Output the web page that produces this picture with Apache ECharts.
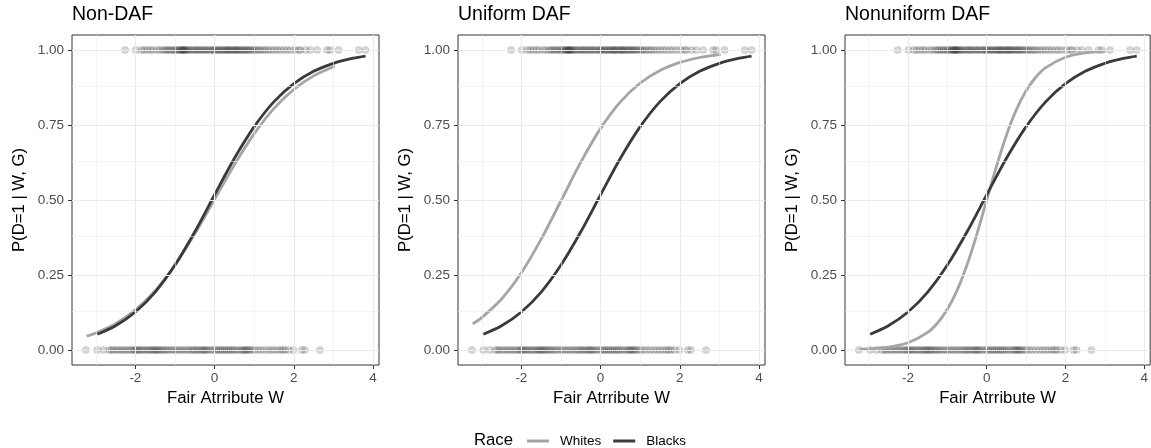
<!DOCTYPE html>
<html><head><meta charset="utf-8">
<script src="https://cdn.jsdelivr.net/npm/echarts@6/dist/echarts.min.js"></script>
<style>html,body{margin:0;padding:0;background:#fff}#c{width:1151px;height:448px}</style>
</head><body><div id="c"></div>
<script>
// ---- data ----
const panelTitles = ['Non-DAF', 'Uniform DAF', 'Nonuniform DAF'];
const xTickValues = [-2, 0, 2, 4];
const xMinorValues = [-3, -1, 1, 3];
const yTickValues = [0, 0.25, 0.5, 0.75, 1];
const yMinorValues = [0.125, 0.375, 0.625, 0.875];

// observed W values with D = 1
const pointsD1 = [-2.26, -1.99, -1.85, -1.78, -1.70, -1.62, -1.55, -1.45, -1.38, -1.30, -1.25, -1.20, -1.15, -1.10,
  -1.05, -1.00, -0.96, -0.92, -0.88, -0.85, -0.82, -0.80, -0.78, -0.75, -0.72, -0.68, -0.64, -0.60, -0.55, -0.50,
  -0.46, -0.42, -0.38, -0.33, -0.28, -0.24, -0.20, -0.15, -0.10, -0.05, -0.02, 0.02, 0.06, 0.10, 0.14, 0.18, 0.22,
  0.26, 0.30, 0.33, 0.36, 0.40, 0.44, 0.48, 0.52, 0.55, 0.58, 0.62, 0.66, 0.70, 0.74, 0.78, 0.82, 0.86, 0.90, 0.95,
  1.00, 1.05, 1.10, 1.16, 1.22, 1.28, 1.35, 1.42, 1.50, 1.58, 1.66, 1.75, 1.83, 1.92, 2.02, 2.12, 2.17, 2.30, 2.42,
  2.59, 2.84, 2.92, 3.13, 3.64, 3.81];
// observed W values with D = 0
const pointsD0 = [-3.25, -2.96, -2.80, -2.66, -2.60, -2.55, -2.48, -2.42, -2.36, -2.30, -2.24, -2.18, -2.12, -2.06,
  -2.02, -1.98, -1.94, -1.90, -1.85, -1.80, -1.75, -1.70, -1.65, -1.60, -1.56, -1.52, -1.48, -1.44, -1.40, -1.35,
  -1.30, -1.25, -1.20, -1.14, -1.08, -1.02, -0.96, -0.90, -0.84, -0.78, -0.72, -0.66, -0.60, -0.55, -0.50, -0.45,
  -0.40, -0.35, -0.30, -0.26, -0.22, -0.18, -0.12, -0.06, 0.00, 0.05, 0.10, 0.15, 0.20, 0.25, 0.30, 0.35, 0.40,
  0.45, 0.50, 0.56, 0.62, 0.68, 0.72, 0.76, 0.80, 0.84, 0.88, 0.94, 1.00, 1.08, 1.16, 1.25, 1.34, 1.42, 1.50, 1.58,
  1.66, 1.72, 1.78, 1.87, 1.99, 2.20, 2.28, 2.66];

// fitted curves
const blacksX = [-2.96, -2.5, -2, -1.5, -1, -0.5, 0, 0.5, 1, 1.5, 2, 2.5, 3, 3.5, 3.81];
const blacksY = [0.0526, 0.0809, 0.1268, 0.1931, 0.283, 0.394, 0.5175, 0.639, 0.7446, 0.828, 0.888, 0.929, 0.9556, 0.9726, 0.9797];

const whitesX = [-3.23, -3, -2.5, -2, -1.5, -1, -0.5, 0, 0.5, 1, 1.5, 2, 2.5, 3.03];
const whitesYNonDAF = [0.0463, 0.0568, 0.0879, 0.1335, 0.1978, 0.283, 0.387, 0.5025, 0.6177, 0.7211, 0.8053, 0.8688, 0.9137, 0.9457];
const whitesYUniform = [0.0869, 0.1081, 0.170, 0.2573, 0.3694, 0.4975, 0.626, 0.7388, 0.827, 0.890, 0.9318, 0.9585, 0.975, 0.9855];
const whitesXNonuniform = [-3.23, -2.5, -2, -1.5, -1.25, -1, -0.75, -0.5, -0.25, 0, 0.25, 0.5, 0.75, 1, 1.25, 1.5, 2, 2.5, 3.03];
const whitesYNonuniform = [0.0025, 0.0097, 0.0241, 0.0587, 0.090, 0.1359, 0.1998, 0.284, 0.3864, 0.5, 0.6136, 0.716, 0.8002, 0.8641, 0.910, 0.9413, 0.9759, 0.9903, 0.9963];

const legendNames = ['Whites', 'Blacks'];
const legendTitle = 'Race';
const xTitle = 'Fair Atrribute W';
const yTitle = 'P(D=1 | W, G)';

// ---- chart ----
const FONT = '"Liberation Sans", Arial, Helvetica, sans-serif';
const lefts = [72, 458, 845];
const whitesSets = [[whitesX, whitesYNonDAF], [whitesX, whitesYUniform], [whitesXNonuniform, whitesYNonuniform]];
const zip = (xs, ys) => xs.map((x, i) => [x, ys[i]]);
const WHITE_C = '#a5a5a5', BLACK_C = '#3a3a3a', GRID_C = '#ebebeb';

const grids = [], xAxes = [], yAxes = [], series = [], titles = [];
lefts.forEach((l, i) => {
  grids.push({left: l, top: 35, width: 307, height: 330, show: true, borderColor: '#333', borderWidth: 1, backgroundColor: '#fff'});
  xAxes.push({
    gridIndex: i, type: 'value', min: -3.6, max: 4.15,
    axisLine: {show: false, onZero: false}, splitLine: {show: false},
    axisTick: {show: true, customValues: xTickValues, length: 4, lineStyle: {color: '#333', width: 1}},
    axisLabel: {customValues: xTickValues, color: '#4d4d4d', fontSize: 13.5, margin: 6, fontFamily: FONT},
    name: xTitle, nameLocation: 'middle', nameGap: 23,
    nameTextStyle: {fontSize: 16.7, color: '#000', fontFamily: FONT}
  });
  yAxes.push({
    gridIndex: i, type: 'value', min: -0.05, max: 1.05,
    axisLine: {show: false, onZero: false}, splitLine: {show: false},
    axisTick: {show: true, customValues: yTickValues, length: 4, lineStyle: {color: '#333', width: 1}},
    axisLabel: {customValues: yTickValues, color: '#4d4d4d', fontSize: 13.5, margin: 8, fontFamily: FONT,
      formatter: v => Number(v).toFixed(2)},
    name: yTitle, nameLocation: 'middle', nameGap: 44,
    nameTextStyle: {fontSize: 16.7, color: '#000', fontFamily: FONT}
  });
  const gl = [];
  xMinorValues.forEach(v => gl.push({xAxis: v, lineStyle: {color: GRID_C, width: 0.6, type: 'solid'}}));
  yMinorValues.forEach(v => gl.push({yAxis: v, lineStyle: {color: GRID_C, width: 0.6, type: 'solid'}}));
  xTickValues.forEach(v => gl.push({xAxis: v, lineStyle: {color: GRID_C, width: 1.2, type: 'solid'}}));
  yTickValues.forEach(v => gl.push({yAxis: v, lineStyle: {color: GRID_C, width: 1.2, type: 'solid'}}));
  series.push({
    type: 'line', name: 'grid' + i, xAxisIndex: i, yAxisIndex: i, data: [], silent: true, z: 1,
    markLine: {silent: true, symbol: ['none', 'none'], label: {show: false}, animation: false, data: gl}
  });
  series.push({
    type: 'scatter', name: 'obs' + i, xAxisIndex: i, yAxisIndex: i, z: 2, silent: true,
    symbol: 'circle', symbolSize: 7.2,
    itemStyle: {color: '#000', opacity: 0.16, borderColor: '#000', borderWidth: 0.6},
    data: pointsD1.map(x => [x, 1]).concat(pointsD0.map(x => [x, 0]))
  });
  series.push({
    type: 'line', name: legendNames[0], xAxisIndex: i, yAxisIndex: i, z: 3, silent: true,
    showSymbol: false, symbol: 'none', smooth: 0.3,
    lineStyle: {color: WHITE_C, width: 2.8}, itemStyle: {color: WHITE_C},
    data: zip(whitesSets[i][0], whitesSets[i][1])
  });
  series.push({
    type: 'line', name: legendNames[1], xAxisIndex: i, yAxisIndex: i, z: 4, silent: true,
    showSymbol: false, symbol: 'none', smooth: 0.3,
    lineStyle: {color: BLACK_C, width: 2.8}, itemStyle: {color: BLACK_C},
    data: zip(blacksX, blacksY)
  });
  titles.push({text: panelTitles[i], left: l, top: 5, padding: 0,
    textStyle: {fontSize: 19.5, fontWeight: 'normal', color: '#000', fontFamily: FONT}});
});
titles.push({text: legendTitle, left: 474, top: 432, padding: 0,
  textStyle: {fontSize: 16.7, fontWeight: 'normal', color: '#000', fontFamily: FONT}});

const chart = echarts.init(document.getElementById('c'), null, {renderer: 'canvas'});
chart.setOption({
  animation: false,
  backgroundColor: '#fff',
  title: titles,
  grid: grids,
  xAxis: xAxes,
  yAxis: yAxes,
  legend: {
    data: legendNames, left: 527, top: 434, icon: 'rect', itemWidth: 22, itemHeight: 3, itemGap: 12,
    selectedMode: false, padding: 0,
    textStyle: {fontSize: 13.5, color: '#000', fontFamily: FONT, padding: [0, 0, 0, 6]}
  },
  series: series
});
</script>
</body></html>
